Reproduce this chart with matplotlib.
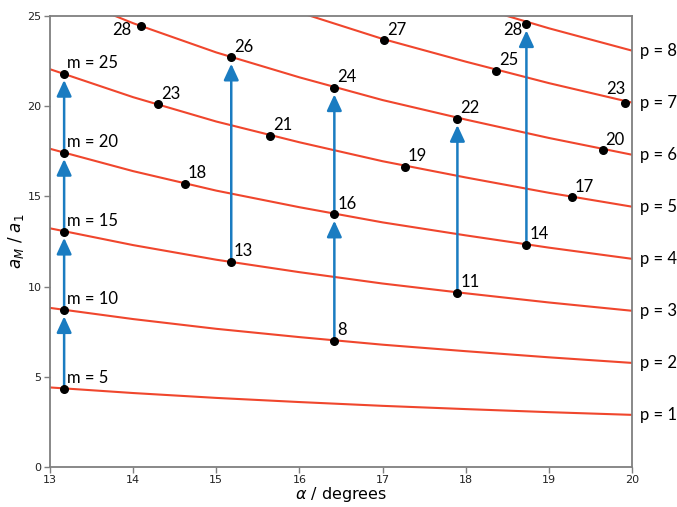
import numpy as np
import matplotlib
matplotlib.use("Agg")
import matplotlib.pyplot as plt

# ---- data ----
alpha_grid = [13, 14, 15, 16, 17, 18, 19, 20]
p_values = [1, 2, 3, 4, 5, 6, 7, 8]
curve_p1 = [4.41, 4.10, 3.83, 3.60, 3.39, 3.21, 3.04, 2.89]
curve_p2 = [8.82, 8.20, 7.66, 7.20, 6.78, 6.42, 6.08, 5.77]
curve_p3 = [13.23, 12.30, 11.49, 10.80, 10.17, 9.63, 9.12, 8.66]
curve_p4 = [17.64, 16.40, 15.32, 14.40, 13.56, 12.84, 12.16, 11.54]
curve_p5 = [22.05, 20.50, 19.15, 18.00, 16.95, 16.05, 15.20, 14.43]
curve_p6 = [26.46, 24.60, 22.98, 21.60, 20.34, 19.26, 18.24, 17.31]
curve_p7 = [30.87, 28.70, 26.81, 25.20, 23.73, 22.47, 21.28, 20.20]
curve_p8 = [35.28, 32.80, 30.64, 28.80, 27.12, 25.68, 24.32, 23.08]
curves = [curve_p1, curve_p2, curve_p3, curve_p4,
          curve_p5, curve_p6, curve_p7, curve_p8]

point_alpha = [13.17, 13.17, 13.17, 13.17, 13.17, 16.42, 17.90, 15.18,
               18.73, 16.42, 19.28, 14.62, 17.27, 19.65, 15.65, 17.90,
               14.30, 19.92, 16.42, 18.37, 15.18, 17.02, 14.10, 18.73]
point_ratio = [4.35, 8.70, 13.05, 17.42, 21.80, 7.00, 9.65, 11.35,
               12.30, 14.00, 14.95, 15.70, 16.65, 17.55, 18.35, 19.30,
               20.10, 20.20, 21.00, 21.95, 22.70, 23.65, 24.45, 24.55]
point_labels = ["m = 5", "m = 10", "m = 15", "m = 20", "m = 25", "8", "11", "13",
                "14", "16", "17", "18", "19", "20", "21", "22",
                "23", "23", "24", "25", "26", "27", "28", "28"]

arrow_alpha = [13.17, 13.17, 13.17, 13.17, 15.18, 16.42, 16.42, 17.90, 18.73]
arrow_from = [4.35, 8.70, 13.05, 17.42, 11.35, 7.00, 14.00, 9.65, 12.30]
arrow_to = [8.70, 13.05, 17.42, 21.80, 22.70, 14.00, 21.00, 19.30, 24.55]

# ---- figure ----
fig = plt.figure(figsize=(6.77, 5.07), dpi=100)
ax = fig.add_axes([50 / 677, 40 / 507, 582 / 677, 451 / 507])

red = "#f0462d"
blue = "#1a7cc1"
grey = "#7f7f7f"
lab_font = ["Lato", "DejaVu Sans"]

for p, c in zip(p_values, curves):
    ax.plot(alpha_grid, c, color=red, lw=1.5, zorder=2, clip_on=True)
    ax.annotate(f"p = {p}", xy=(alpha_grid[-1], c[-1]), xytext=(6, 0),
                textcoords="offset points", ha="left", va="center",
                fontsize=12, family=lab_font, annotation_clip=False)

for a, y0, y1 in zip(arrow_alpha, arrow_from, arrow_to):
    ax.annotate("", xy=(a, y1), xytext=(a, y0),
                arrowprops=dict(arrowstyle="-|>,head_length=0.65,head_width=0.3",
                                mutation_scale=15, color=blue, lw=1.8,
                                shrinkA=0, shrinkB=4.5),
                zorder=3)

ax.scatter(point_alpha, point_ratio, s=30, color="black", zorder=4)

for a, y, t in zip(point_alpha, point_ratio, point_labels):
    if t == "28" and a < 15:
        off, ha, va = (-7, -3), "right", "center"
    elif t == "28":
        off, ha, va = (-3, -4), "right", "center"
    elif t == "23" and a > 19.5:
        off, ha, va = (0, 4), "right", "bottom"
    else:
        off, ha, va = (2, 2), "left", "bottom"
    ax.annotate(t, xy=(a, y), xytext=off, textcoords="offset points",
                ha=ha, va=va, fontsize=12, family=lab_font, zorder=5,
                annotation_clip=False)

ax.set_xlim(13, 20)
ax.set_ylim(0, 25)
ax.set_xticks([13, 14, 15, 16, 17, 18, 19, 20])
ax.set_yticks([0, 5, 10, 15, 20, 25])
ax.tick_params(direction="out", length=4, width=1, color=grey, labelsize=8,
               labelcolor="#222222", pad=2)
for s in ax.spines.values():
    s.set_color(grey)
    s.set_linewidth(1.3)

ax.set_xlabel(r"$\alpha$ / degrees", fontsize=11.5, labelpad=0)
ax.set_ylabel(r"$a_M$ / $a_1$", fontsize=12, labelpad=1)

fig.savefig("out.png", dpi=100)
